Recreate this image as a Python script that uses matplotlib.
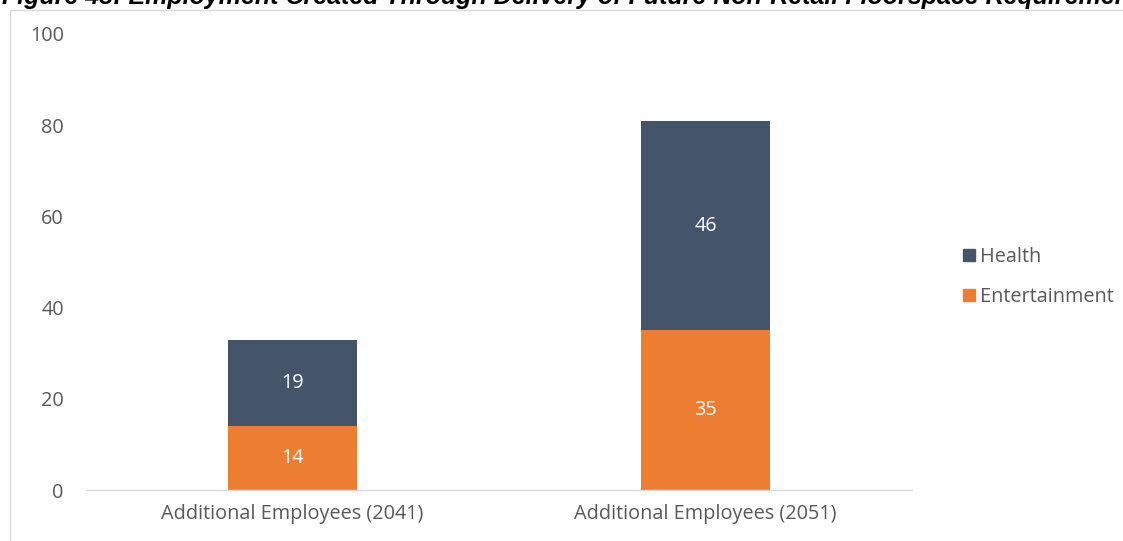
import matplotlib
matplotlib.use("Agg")
import matplotlib.pyplot as plt
from matplotlib.patches import Rectangle
from matplotlib.lines import Line2D

categories = ["Additional Employees (2041)", "Additional Employees (2051)"]
entertainment = [14, 35]
health = [19, 46]
yticks = [0, 20, 40, 60, 80, 100]
title = "Figure 43: Employment Created Through Delivery of Future Non-Retail Floorspace Requirements"

W, H = 1123, 541
fig = plt.figure(figsize=(W / 100, H / 100), dpi=100)
fig.patch.set_facecolor("white")

plt.rcParams["font.family"] = ["Open Sans", "DejaVu Sans"]
FS = 14.3

# chart frame (extends beyond image)
fig.patches.append(Rectangle((10 / W, -0.1), 1.2, (H - 10) / H + 0.1, transform=fig.transFigure,
                             fill=False, edgecolor="#d9d9d9", linewidth=1.0, figure=fig))

# title, clipped at top as in the reference
fig.text(2 / W, 1 - 9 / H, title, ha="left", va="bottom", fontsize=18, fontweight="bold",
         fontstyle="italic", family="Liberation Sans", color="black")

ax = fig.add_axes([86 / W, (H - 490) / H, (912 - 86) / W, (490 - 34) / H])
ax.set_facecolor("none")
x = [0, 1]
orange = "#ED7D31"
navy = "#44546A"
bw = 0.31
ax.bar(x, entertainment, width=bw, color=orange, label="Entertainment", zorder=2)
ax.bar(x, health, bottom=entertainment, width=bw, color=navy, label="Health", zorder=2)

for i in range(2):
    ax.text(x[i], entertainment[i] / 2, str(entertainment[i]), ha="center", va="center",
            color="white", fontsize=FS)
    ax.text(x[i], entertainment[i] + health[i] / 2, str(health[i]), ha="center", va="center",
            color="white", fontsize=FS)

ax.set_xlim(-0.5, 1.5)
ax.set_ylim(0, 100)
ax.set_yticks(yticks)
ax.set_yticklabels([str(v) for v in yticks])
ax.set_xticks(x)
ax.set_xticklabels(categories)
for s in ["top", "right", "left"]:
    ax.spines[s].set_visible(False)
ax.spines["bottom"].set_color("#d9d9d9")
ax.spines["bottom"].set_linewidth(1.0)
ax.tick_params(axis="both", length=0, colors="#595959", labelsize=FS)
ax.tick_params(axis="y", pad=16)
ax.tick_params(axis="x", pad=10)

handles = [Line2D([], [], marker="s", linestyle="none", color=navy, markersize=8.5),
           Line2D([], [], marker="s", linestyle="none", color=orange, markersize=8.5)]
leg = fig.legend(handles, ["Health", "Entertainment"], loc="center left",
                 bbox_to_anchor=(953 / W, 1 - 277 / H), frameon=False, fontsize=FS,
                 handlelength=0.6, handletextpad=0.25, labelspacing=1.05, borderpad=0)
for t in leg.get_texts():
    t.set_color("#595959")

fig.savefig("out.png", dpi=100)
